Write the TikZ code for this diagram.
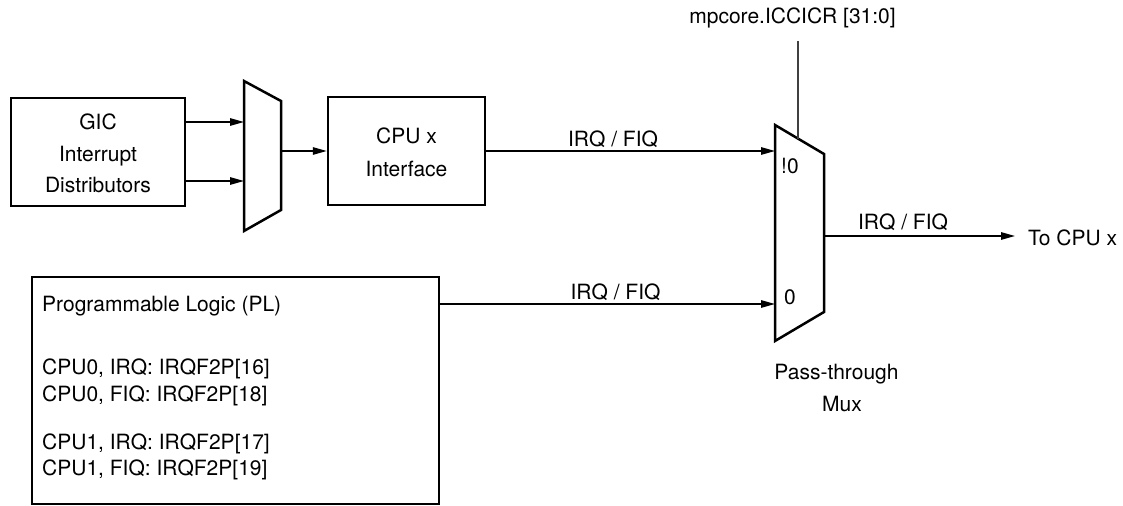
\documentclass[tikz,border=0pt]{standalone}
\usepackage{fontspec}
\setmainfont{TeX Gyre Heros}
\usetikzlibrary{arrows.meta}
\begin{document}
\begin{tikzpicture}[x=1bp,y=-1bp,
  font=\fontsize{21bp}{25bp}\selectfont,
  box/.style={draw, line width=2.5bp, inner sep=0pt},
  muxline/.style={draw, line width=2.5bp, line join=miter},
  sig/.style={line width=1.4bp, -{Triangle[length=14bp,width=7.5bp]}},
  sel/.style={line width=1.1bp, draw=black!75},
  lbl/.style={anchor=base, inner sep=0pt},
  lblw/.style={anchor=base west, inner sep=0pt}]
\useasboundingbox (0,0) rectangle (1123,506);

% boxes
\node[box, minimum width=174bp, minimum height=108bp] (gic) at (98,152) {};
\node[lbl] (gic1) at (98,130) {GIC};
\node[lbl] (gic2) at (98,162) {Interrupt};
\node[lbl] (gic3) at (98,193) {Distributors};

\node[box, minimum width=157bp, minimum height=108bp] (cpu) at (406.5,151) {};
\node[lbl] (cpu1) at (406.5,144) {CPU x};
\node[lbl] (cpu2) at (406.5,176.5) {Interface};

\node[box, minimum width=407bp, minimum height=227bp] (pl) at (235.5,390.5) {};
\node[lblw] (pl0) at (42,311.5) {Programmable Logic (PL)};
\node[lblw] (pl1) at (42,375) {CPU0, IRQ: IRQF2P[16]};
\node[lblw] (pl2) at (42,401) {CPU0, FIQ: IRQF2P[18]};
\node[lblw] (pl3) at (42,449) {CPU1, IRQ: IRQF2P[17]};
\node[lblw] (pl4) at (42,475) {CPU1, FIQ: IRQF2P[19]};

% first mux
\coordinate (m1a) at (244,81);
\coordinate (m1b) at (281,101);
\coordinate (m1c) at (281,210);
\coordinate (m1d) at (244,231);
\draw[muxline] (m1a) -- (m1b) -- (m1c) -- (m1d) -- cycle;
\coordinate (m1in1) at (244,122);
\coordinate (m1in2) at (244,181);
\coordinate (m1out) at (281,151);

% pass-through mux
\coordinate (m2a) at (775,125);
\coordinate (m2b) at (824,154);
\coordinate (m2c) at (824,312);
\coordinate (m2d) at (775,341);
\draw[muxline] (m2a) -- (m2b) -- (m2c) -- (m2d) -- cycle;
\coordinate (m2in1) at (775,151);
\coordinate (m2in2) at (775,304);
\coordinate (m2out) at (824,236);
\node[lblw] (in1lbl) at (781,174) {!0};
\node[lblw] (in2lbl) at (784,305) {0};
\node[lbl] (pt1) at (836.5,380) {Pass-through};
\node[lbl] (pt2) at (842,411) {Mux};

% select line
\node[lbl] (mpc) at (792.5,24) {mpcore.ICCICR [31:0]};
\coordinate (selTop) at (798,41);
\coordinate (selBot) at (798,138.6);
\draw[sel] (selTop) -- (selBot);

% connectors
\draw[sig] (gic.east |- m1in1) -- (m1in1);
\draw[sig] (gic.east |- m1in2) -- (m1in2);
\draw[sig] (m1out) -- (cpu.west |- m1out);
\draw[sig] (cpu.east |- m2in1) -- (m2in1);
\draw[sig] (pl.east |- m2in2) -- (m2in2);
\node[lblw, outer xsep=13bp] (tocpu) at (1015,246) {To CPU x};
\draw[sig] (m2out) -- (m2out -| tocpu.west);

% signal labels
\node[lbl] (l1) at (613,147) {IRQ / FIQ};
\node[lbl] (l2) at (615.5,300) {IRQ / FIQ};
\node[lbl] (l3) at (903,230) {IRQ / FIQ};
\end{tikzpicture}
\end{document}
